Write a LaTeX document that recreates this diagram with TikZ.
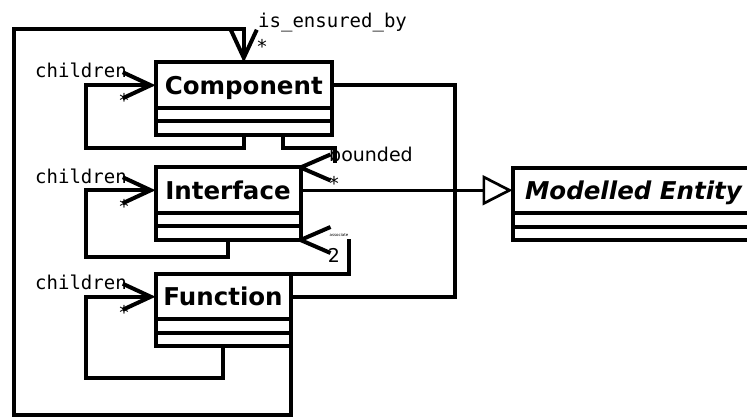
\documentclass[tikz,border=0pt]{standalone}
\usepackage{fontspec}
\setmainfont{DejaVu Sans}
\setmonofont{DejaVu Sans Mono}
\usepackage{tikz}
\usetikzlibrary{arrows.meta}
\tikzset{
    classname/.style={draw, line width=4pt, inner sep=0pt, outer sep=0pt, anchor=north west,
        minimum height=45.5pt, text height=32pt, text depth=13.5pt,
        font=\fontsize{24.5}{28}\selectfont\bfseries},
    classops/.style={draw, line width=4pt, inner sep=0pt, outer sep=0pt, anchor=north, minimum height=27pt},
    classline/.style={line width=4pt},
    assoc/.style={line width=4pt, -{Straight Barb[length=28pt,width=26pt]}},
    gen/.style={line width=2.7pt, -{Triangle[open,length=30pt,width=30pt]}},
    role/.style={inner sep=0pt, anchor=base west, font=\fontsize{19}{20}\selectfont\ttfamily},
    mult/.style={inner sep=0pt, anchor=base, font=\fontsize{19}{20}\selectfont\ttfamily},
    openhead/.pic={\draw[line width=4pt, line join=round] (30,-13) -- (0,0) -- (30,13);},
}
\newcommand{\umlclass}[4]{
    \node[classname, minimum width=#3] (#1) at (#2) {#4};
    \node[classops, minimum width=#3] (#1ops) at (#1.south) {};
    \draw[classline] (#1ops.west) -- (#1ops.east);
}

\begin{document}
\begin{tikzpicture}[x=1pt, y=-1pt]
\useasboundingbox (0,0) rectangle (747,419);

\node[role] (ensured) at (258,28) {is\_ensured\_by};
\node[mult] (ensmult) at (262,54) {*};
\node[role] (compchildren) at (35,78) {children};
\node[mult] (compmult) at (124,108) {*};
\node[role] (intfchildren) at (35,184) {children};
\node[mult] (intfmult) at (124,214) {*};
\node[role] (funcchildren) at (35,290) {children};
\node[mult] (funcmult) at (124,320) {*};
\node[role, font=\fontsize{19}{20}\selectfont] (bounded) at (329,162) {bounded};
\node[mult] (bndmult) at (334,191) {*};
\node[inner sep=0pt, font=\fontsize{4}{5}\selectfont] (associate) at (339,235) {associate};
\node[mult, font=\fontsize{19}{20}\selectfont] (ascmult) at (334,263) {2};

\umlclass{component}{155.5,62.5}{176.5pt}{Component}
\umlclass{interface}{155.5,167.5}{145pt}{Interface}
\umlclass{function}{155.5,274}{135pt}{Function}
\umlclass{entity}{512.5,168}{242pt}{\itshape Modelled Entity}

\coordinate (ensbl) at (13.5,415);
\coordinate (enstl) at (13.5,29);
\coordinate (comploop) at (85.5,148);
\coordinate (intfloop) at (85.5,257);
\coordinate (funcloop) at (85.5,378);
\coordinate (bndtop) at (335,148);
\coordinate (bndend) at (335,163);
\coordinate (asctop) at (349,241.5);
\coordinate (genx) at (454.5,191);

\draw[gen] (interface.east) -- (interface.east -| entity.west);
\draw[classline] (component.east) -| (genx) |- (function.east);

\draw[assoc] (functionops.south east) |- (ensbl) -- (enstl) -| (component.north);
\draw[assoc] (componentops.south) |- (comploop) |- (component.west);
\draw[assoc] (interfaceops.south) |- (intfloop) |- (interface.west);
\draw[assoc] (functionops.south) |- (funcloop) |- (function.west);

\draw[classline] ([xshift=39pt]componentops.south) |- (bndtop) -- (bndend);
\pic at (interface.north east) {openhead};
\draw[classline] (function.north east) -| (asctop) -- ++(-2,0);
\pic at (interfaceops.south east) {openhead};
\end{tikzpicture}
\end{document}
